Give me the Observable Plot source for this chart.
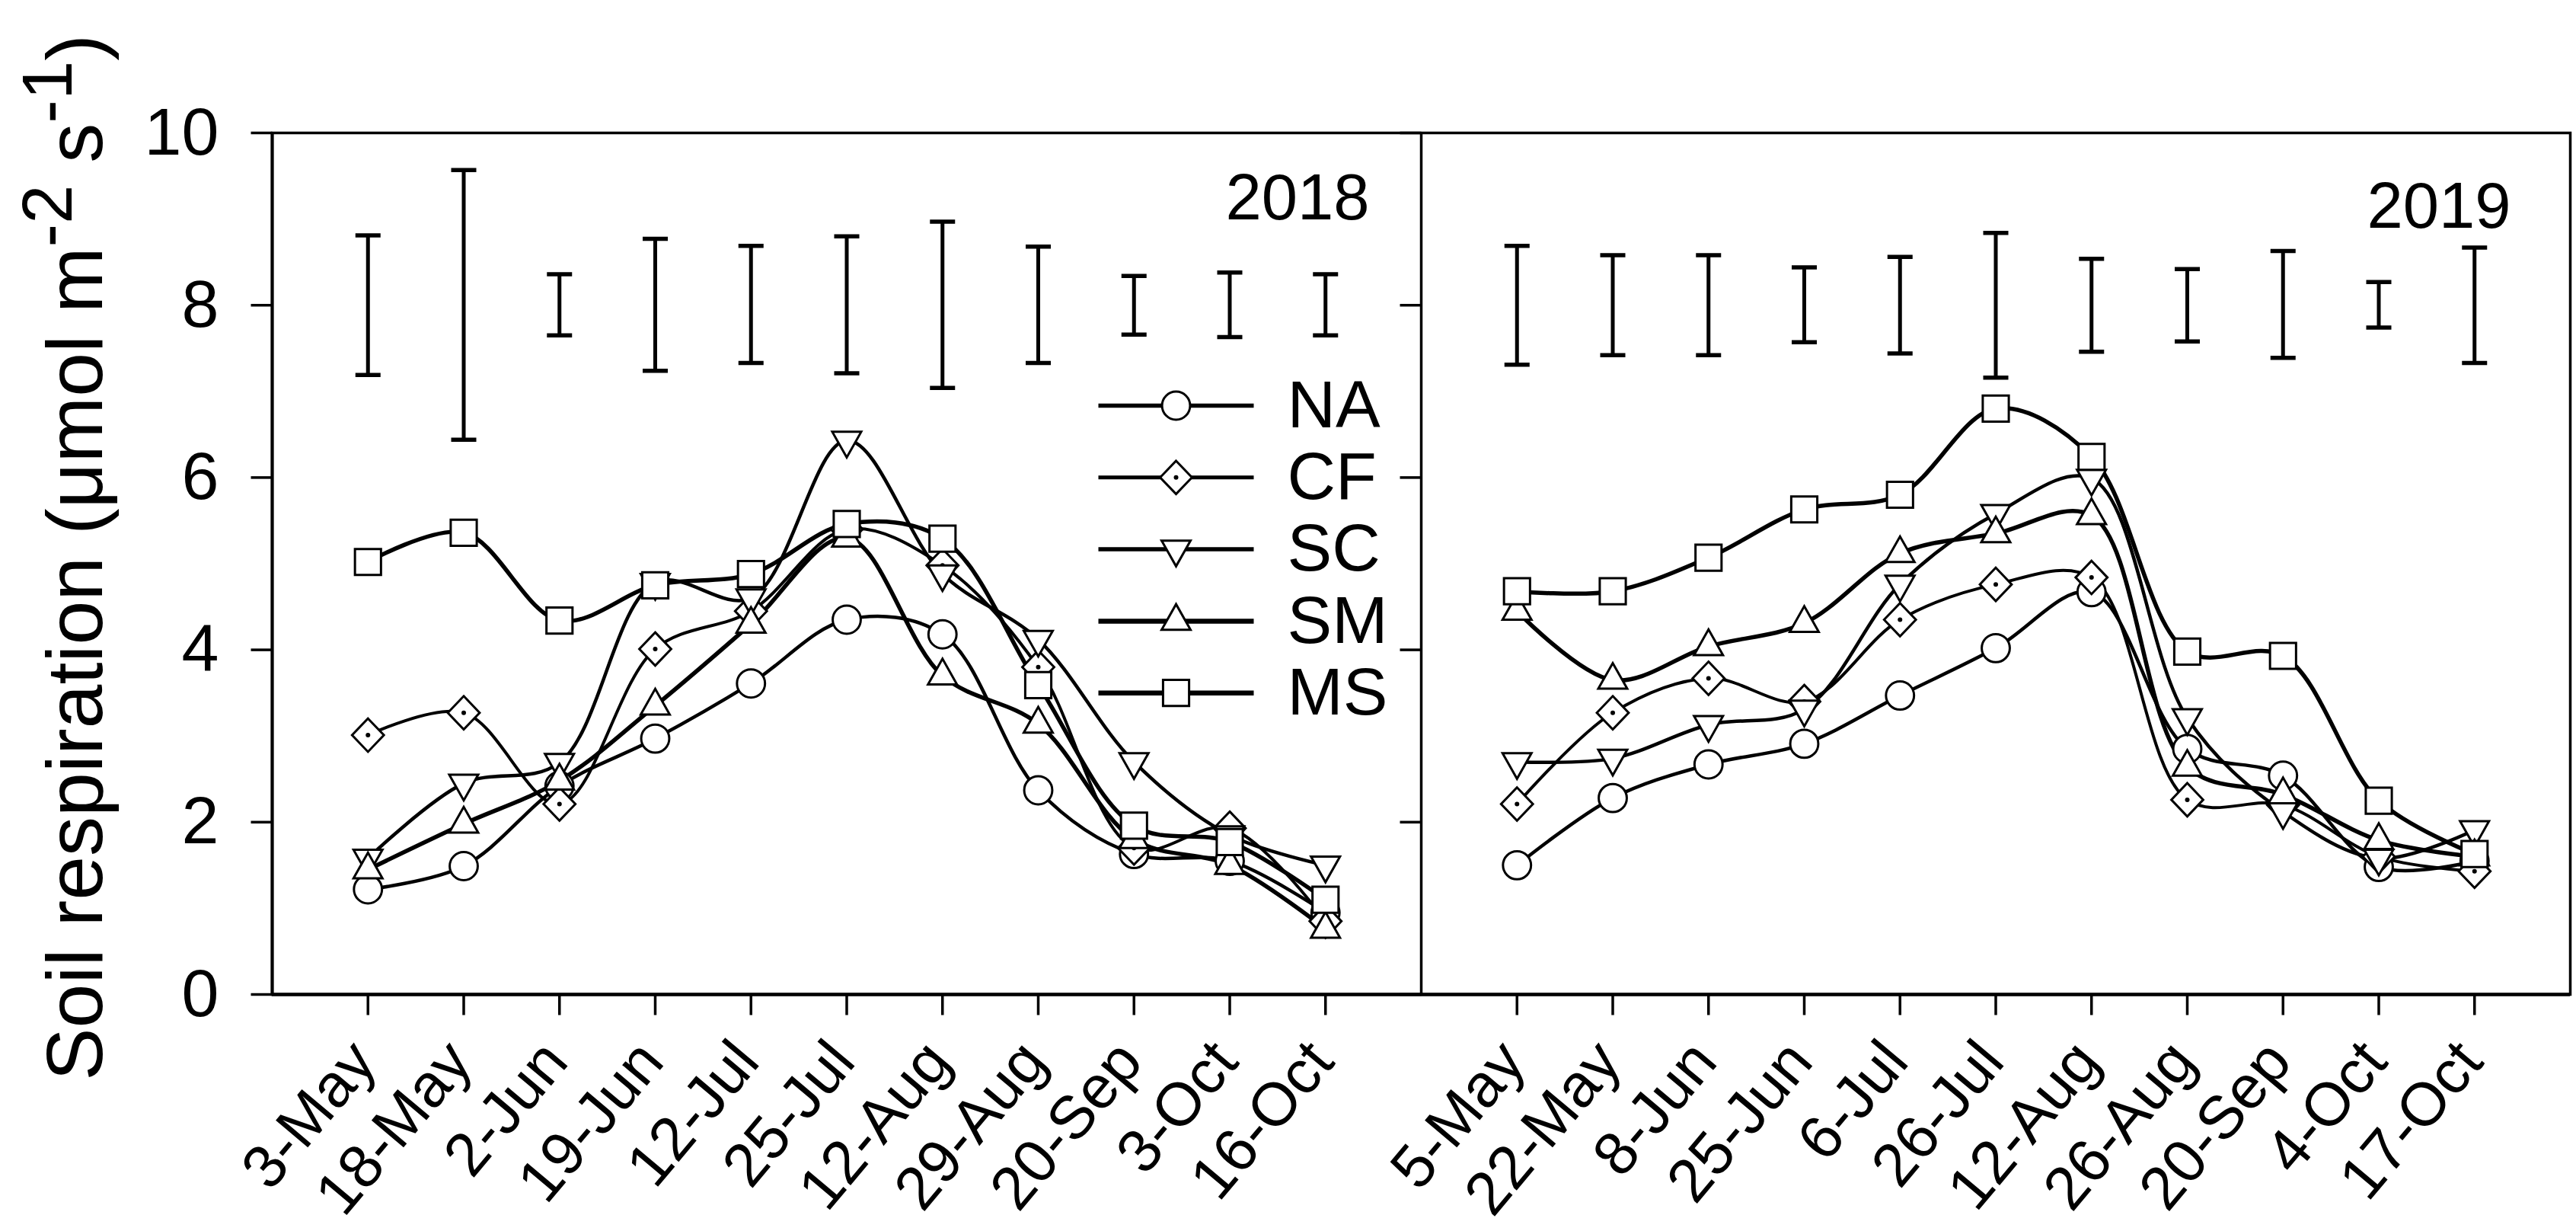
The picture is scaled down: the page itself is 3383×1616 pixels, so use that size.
<!DOCTYPE html>
<html><head><meta charset="utf-8">
<script src="https://cdn.jsdelivr.net/npm/d3@7"></script>
<script src="https://cdn.jsdelivr.net/npm/@observablehq/plot@0.6"></script>
<style>html,body{margin:0;padding:0;background:#fff;} #chart svg{display:block;}</style>
</head><body><div id="chart"></div>
<script>
// ---------- data ----------
const years = ["2018", "2019"];
const dates2018 = ["3-May","18-May","2-Jun","19-Jun","12-Jul","25-Jul","12-Aug","29-Aug","20-Sep","3-Oct","16-Oct"];
const dates2019 = ["5-May","22-May","8-Jun","25-Jun","6-Jul","26-Jul","12-Aug","26-Aug","20-Sep","4-Oct","17-Oct"];
const seriesNames = ["NA","CF","SC","SM","MS"];

const na2018 = [1.22, 1.49, 2.42, 2.97, 3.61, 4.35, 4.18, 2.37, 1.63, 1.55, 0.95];
const cf2018 = [3.01, 3.27, 2.21, 4.01, 4.45, 5.40, 4.98, 3.80, 1.70, 1.93, 0.85];
const sc2018 = [1.58, 2.45, 2.69, 4.78, 4.60, 6.43, 4.88, 4.12, 2.70, 1.85, 1.50];
const sm2018 = [1.45, 1.98, 2.48, 3.35, 4.30, 5.30, 3.70, 3.14, 1.80, 1.50, 0.76];
const ms2018 = [5.02, 5.36, 4.34, 4.75, 4.88, 5.46, 5.29, 3.59, 1.96, 1.77, 1.10];

const na2019 = [1.50, 2.28, 2.67, 2.91, 3.47, 4.02, 4.67, 2.85, 2.54, 1.48, 1.55];
const cf2019 = [2.21, 3.27, 3.67, 3.40, 4.35, 4.76, 4.84, 2.26, 2.20, 1.60, 1.43];
const sc2019 = [2.70, 2.74, 3.13, 3.31, 4.76, 5.58, 5.99, 3.21, 2.12, 1.58, 1.91];
const sm2019 = [4.45, 3.65, 4.04, 4.31, 5.12, 5.35, 5.56, 2.64, 2.32, 1.79, 1.60];
const ms2019 = [4.68, 4.68, 5.07, 5.63, 5.80, 6.80, 6.24, 3.98, 3.93, 2.25, 1.63];

const errLow2018  = [7.19, 6.44, 7.65, 7.24, 7.33, 7.21, 7.04, 7.33, 7.66, 7.63, 7.65];
const errHigh2018 = [8.81, 9.57, 8.36, 8.77, 8.69, 8.80, 8.97, 8.68, 8.34, 8.38, 8.36];
const errLow2019  = [7.31, 7.42, 7.42, 7.57, 7.44, 7.16, 7.46, 7.58, 7.39, 7.74, 7.33];
const errHigh2019 = [8.69, 8.58, 8.58, 8.44, 8.56, 8.84, 8.54, 8.42, 8.63, 8.27, 8.67];

const yTicks = [0, 2, 4, 6, 8, 10];

// ---------- build tables ----------
const panelSpan = dates2018.length + 1;
const datesByYear = [dates2018, dates2019];
const valuesByYear = [[na2018, cf2018, sc2018, sm2018, ms2018], [na2019, cf2019, sc2019, sm2019, ms2019]];
const errByYear = [[errLow2018, errHigh2018], [errLow2019, errHigh2019]];

const rows = [], errRows = [], dateRows = [];
years.forEach((yr, yi) => {
  datesByYear[yi].forEach((d, i) => {
    const pos = yi * panelSpan + i + 1;
    dateRows.push({year: yr, date: d, pos});
    errRows.push({year: yr, pos, lo: errByYear[yi][0][i], hi: errByYear[yi][1][i]});
  });
  seriesNames.forEach((s, si) => {
    valuesByYear[yi][si].forEach((v, i) => rows.push({year: yr, series: s, pos: yi * panelSpan + i + 1, value: v}));
  });
});

// ---------- symbols ----------
const unit = size => Math.sqrt(size / Math.PI);
const symCircle = {draw(c, s) { const r = unit(s) * 0.97; c.moveTo(r, 0); c.arc(0, 0, r, 0, 2 * Math.PI); c.closePath(); }};
const symDiamond = {draw(c, s) { const r = unit(s); c.moveTo(0, -1.15 * r); c.lineTo(1.1 * r, 0); c.lineTo(0, 1.15 * r); c.lineTo(-1.1 * r, 0); c.closePath(); }};
const symDown = {draw(c, s) { const r = unit(s); c.moveTo(-r, -0.6 * r); c.lineTo(r, -0.6 * r); c.lineTo(0, 1.17 * r); c.closePath(); }};
const symUp = {draw(c, s) { const r = unit(s); c.moveTo(-r, 0.6 * r); c.lineTo(r, 0.6 * r); c.lineTo(0, -1.17 * r); c.closePath(); }};
const symSquare = {draw(c, s) { const h = unit(s) * 0.9; c.moveTo(-h, -h); c.lineTo(h, -h); c.lineTo(h, h); c.lineTo(-h, h); c.closePath(); }};
const symCap = {draw(c) { c.moveTo(-16.5, 0); c.lineTo(16.5, 0); }};
const symTickDown = {draw(c) { c.moveTo(0, 0); c.lineTo(0, 27); }};
const symTickLeft = {draw(c) { c.moveTo(-28, 0); c.lineTo(0, 0); }};
const symLegendLine = {draw(c) { c.moveTo(-102, 0); c.lineTo(102, 0); }};

const seriesSymbol = {NA: symCircle, CF: symDiamond, SC: symDown, SM: symUp, MS: symSquare};
const seriesWidth = {NA: 4.5, CF: 4, SC: 4.5, SM: 5.5, MS: 5.5};

// ---------- marks ----------
const marks = [];
marks.push(Plot.frame({stroke: "black", strokeWidth: 3.5}));
marks.push(Plot.ruleX([panelSpan], {stroke: "black", strokeWidth: 3.5}));
marks.push(Plot.ruleX([0], {stroke: "black", strokeWidth: 4}));
marks.push(Plot.ruleY([yTicks[0]], {stroke: "black", strokeWidth: 4.5}));

// axis ticks
marks.push(Plot.dot(yTicks, {x: 0, y: d => d, symbol: symTickLeft, r: 1, fill: "none", stroke: "black", strokeWidth: 3.5}));
marks.push(Plot.dot(yTicks, {x: panelSpan, y: d => d, symbol: symTickLeft, r: 1, fill: "none", stroke: "black", strokeWidth: 3.5}));
marks.push(Plot.dot(dateRows, {x: "pos", y: yTicks[0], symbol: symTickDown, r: 1, fill: "none", stroke: "black", strokeWidth: 3.5}));

// tick labels
marks.push(Plot.text(yTicks, {x: 0, y: d => d, text: d => String(d), dx: -70, textAnchor: "end", lineAnchor: "middle", fontSize: 88, fill: "black"}));
marks.push(Plot.text(dateRows, {x: "pos", y: yTicks[0], text: "date", rotate: -50, dx: 14, dy: 90, textAnchor: "end", lineAnchor: "bottom", fontSize: 80, fill: "black"}));

// error bars
marks.push(Plot.ruleX(errRows, {x: "pos", y1: "lo", y2: "hi", stroke: "black", strokeWidth: 5}));
marks.push(Plot.dot(errRows, {x: "pos", y: "lo", symbol: symCap, r: 1, fill: "none", stroke: "black", strokeWidth: 5.5}));
marks.push(Plot.dot(errRows, {x: "pos", y: "hi", symbol: symCap, r: 1, fill: "none", stroke: "black", strokeWidth: 5.5}));

// series lines
seriesNames.forEach(s => {
  marks.push(Plot.line(rows.filter(d => d.series === s), {x: "pos", y: "value", z: "year", curve: "catmull-rom", stroke: "black", strokeWidth: seriesWidth[s]}));
});
// series markers
seriesNames.forEach(s => {
  const data = rows.filter(d => d.series === s);
  marks.push(Plot.dot(data, {x: "pos", y: "value", symbol: seriesSymbol[s], r: 19, fill: "white", stroke: "black", strokeWidth: 3}));
  if (s === "CF") marks.push(Plot.dot(data, {x: "pos", y: "value", r: 3, fill: "black", stroke: "none"}));
});

// year labels
marks.push(Plot.text([years[0]], {x: panelSpan, y: yTicks[yTicks.length - 1], text: d => d, dx: -68, dy: 113, textAnchor: "end", lineAnchor: "bottom", fontSize: 85, fill: "black"}));
marks.push(Plot.text([years[1]], {x: 2 * panelSpan, y: yTicks[yTicks.length - 1], text: d => d, dx: -78, dy: 124, textAnchor: "end", lineAnchor: "bottom", fontSize: 85, fill: "black"}));

// legend
seriesNames.forEach((s, i) => {
  const dy = 358 + i * 94.3;
  marks.push(Plot.dot([s], {frameAnchor: "top-left", dx: 1187, dy, symbol: symLegendLine, r: 1, fill: "none", stroke: "black", strokeWidth: seriesWidth[s] + 1}));
  marks.push(Plot.dot([s], {frameAnchor: "top-left", dx: 1187, dy, symbol: seriesSymbol[s], r: 19, fill: "white", stroke: "black", strokeWidth: 3}));
  if (s === "CF") marks.push(Plot.dot([s], {frameAnchor: "top-left", dx: 1187, dy, r: 3, fill: "black", stroke: "none"}));
  marks.push(Plot.text([s], {frameAnchor: "top-left", dx: 1333, dy, text: d => d, textAnchor: "start", lineAnchor: "middle", fontSize: 88, fill: "black"}));
});

const chart = Plot.plot({
  width: 3383,
  height: 1616,
  marginLeft: 357,
  marginRight: 8,
  marginTop: 174,
  marginBottom: 311,
  x: {domain: [0, 2 * panelSpan], axis: null},
  y: {domain: [yTicks[0], yTicks[yTicks.length - 1]], axis: null},
  style: {fontFamily: "'Liberation Sans', Arial, sans-serif", background: "white", color: "black"},
  marks
});

// y-axis title with superscripts
const svg = d3.select(chart);
const t = svg.append("text")
  .attr("transform", "translate(134,732) rotate(-90)")
  .attr("text-anchor", "middle")
  .attr("font-family", "'Liberation Sans', Arial, sans-serif")
  .attr("font-size", 104)
  .attr("fill", "black");
t.append("tspan").text("Soil respiration (\u03bcmol m");
t.append("tspan").attr("dy", -40).attr("font-size", 92).text("-2");
t.append("tspan").attr("dy", 40).text(" s");
t.append("tspan").attr("dy", -40).attr("font-size", 92).text("-1");
t.append("tspan").attr("dy", 40).text(")");

document.getElementById("chart").appendChild(chart);
</script>
</body></html>
